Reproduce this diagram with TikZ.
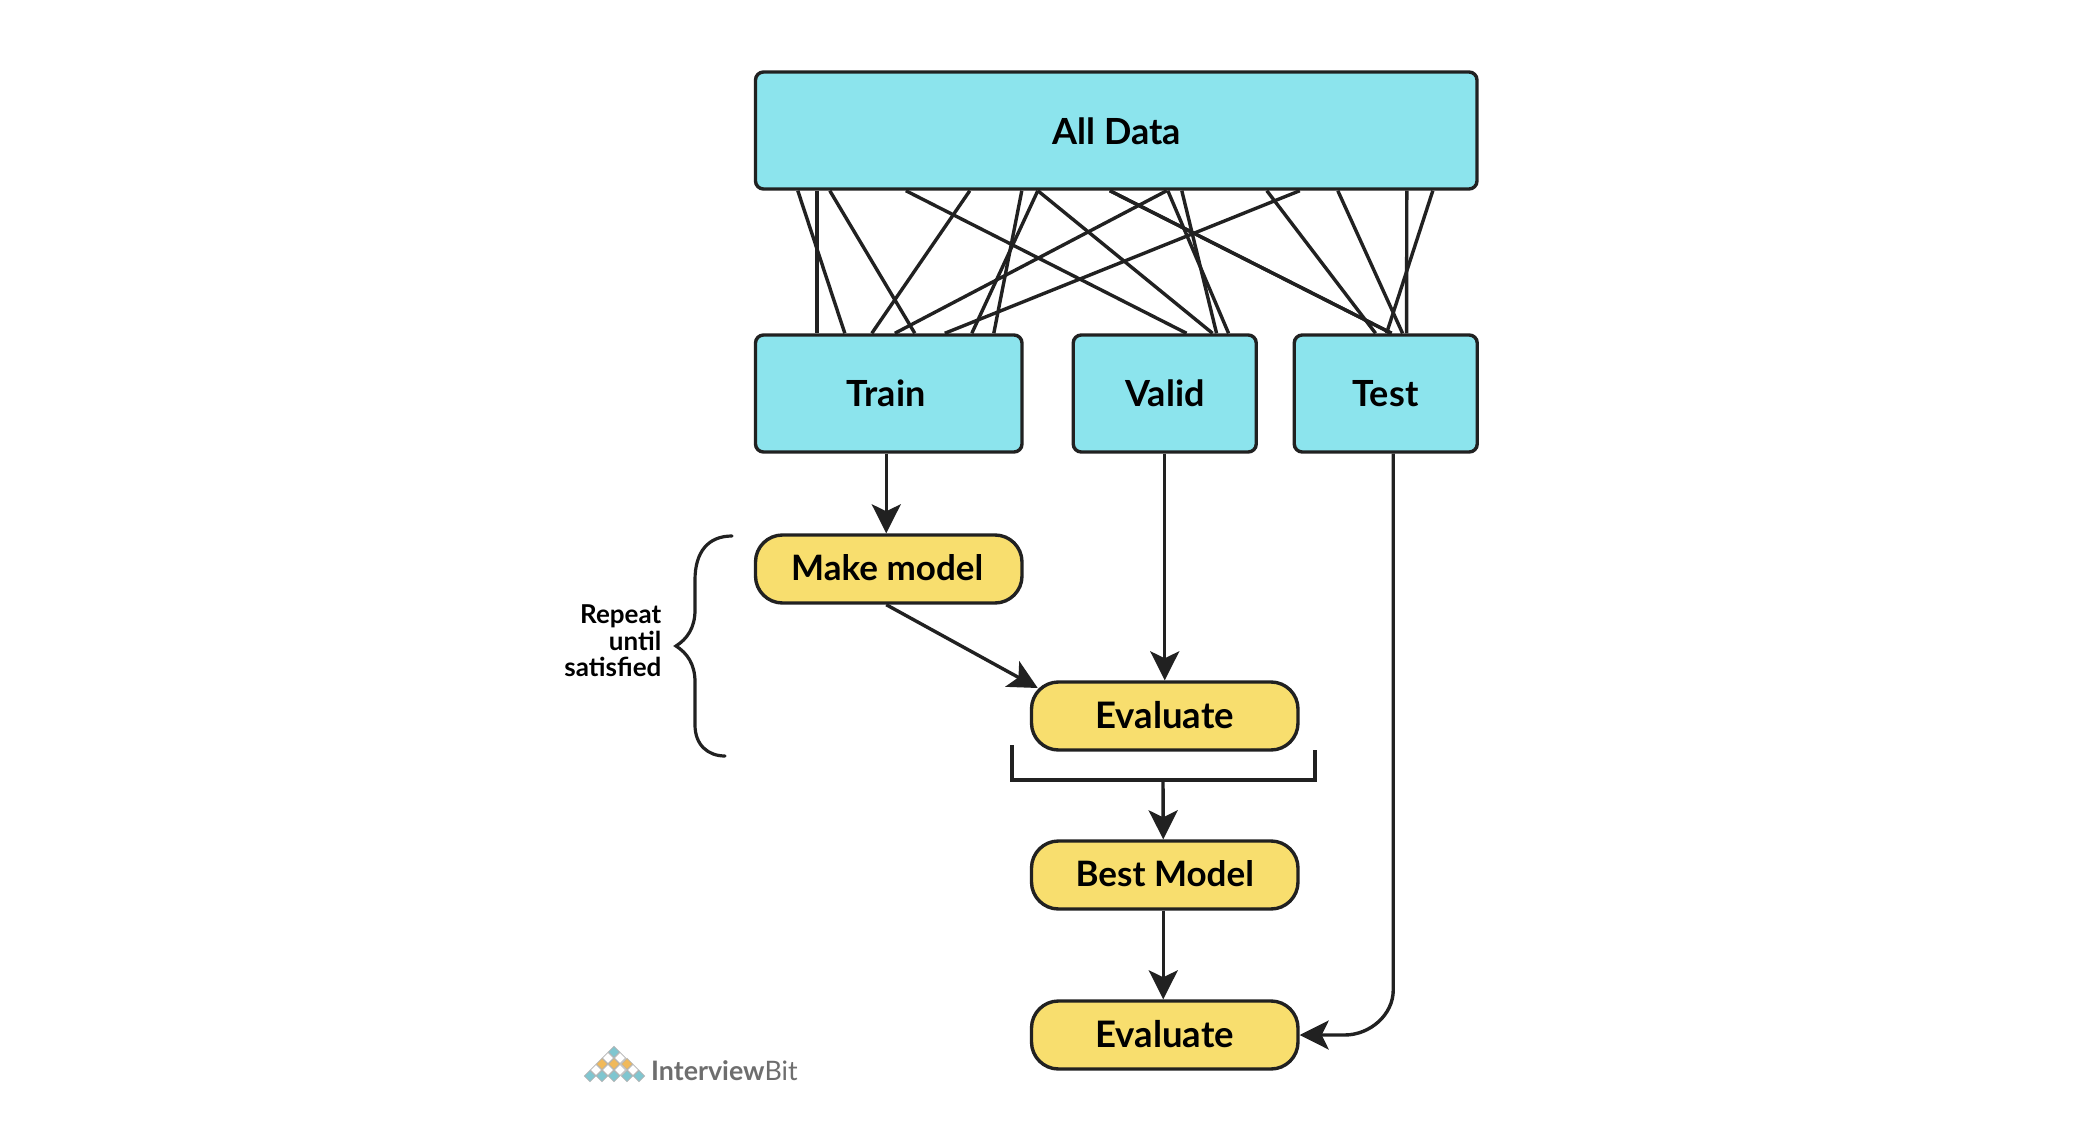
\documentclass[tikz,border=0pt]{standalone}
\usepackage{fontspec}
\setmainfont{Lato}
\usetikzlibrary{arrows.meta,calc}
\definecolor{cy}{HTML}{8CE4ED}
\definecolor{ye}{HTML}{F8DE6E}
\definecolor{ln}{HTML}{212121}
\definecolor{lt}{HTML}{7FC6D0}
\definecolor{lo}{HTML}{F0B95B}
\definecolor{lg}{HTML}{6E6E6E}
\tikzset{
 databox/.style={draw=ln,line width=3.4pt,fill=cy,rounded corners=8pt,inner sep=0pt},
 boxlabel/.style={inner sep=0pt,font=\fontsize{36}{40}\selectfont\bfseries,text=black},
 stepbox/.style={draw=ln,line width=3.4pt,fill=ye,rounded corners=27pt,inner sep=0pt,font=\fontsize{35}{40}\selectfont\bfseries,text=black},
 conn/.style={draw=ln,line width=3.4pt},
 arr/.style={draw=ln,line width=3.4pt,-{Stealth[length=29pt,width=29pt,inset=7pt]}},
}
\newcommand{\raisetext}[2][3pt]{\raisebox{#1}{#2}}
\newcommand{\evalsize}{\fontsize{36.5}{40}\selectfont}
\begin{document}
\begin{tikzpicture}[x=1pt,y=-1pt]
\useasboundingbox (0,0) rectangle (2094,1142);
\fill[white] (0,0) rectangle (2094,1142);

\node[databox,minimum width=721.5pt,minimum height=117pt] (all) at (1116.25,130.5) {};
\node[databox,minimum width=266.5pt,minimum height=117pt] (train) at (888.75,393.5) {};
\node[databox,minimum width=183pt,minimum height=117pt] (valid) at (1164.75,393.5) {};
\node[databox,minimum width=183pt,minimum height=117pt] (test) at (1385.75,393.5) {};

% All Data -> splits: offsets from each box's left end
\foreach \a/\b in {44/91,63/63,76/161,216/118,268/240,284/218,413/141,546/191}
  \draw[conn] ([xshift=\a pt]all.south west) -- ([xshift=\b pt]train.north west);
\foreach \a/\b in {152/115,284/141,356/320,414/157,428/145}
  \draw[conn] ([xshift=\a pt]all.south west) -- ([xshift=\b pt]valid.north west);
\foreach \a/\b in {356/99,513/83,584/110,679/94,653/114}
  \draw[conn] ([xshift=\a pt]all.south west) -- ([xshift=\b pt]test.north west);

\node[boxlabel] (lall) at (1116.5,131.5) {All Data};
\node[boxlabel] (ltrain) at (886,393.5) {Train};
\node[boxlabel] (lvalid) at (1165,393.5) {Valid};
\node[boxlabel] (ltest) at (1385.5,393.5) {Test};

\node[stepbox,minimum width=266.5pt,minimum height=68pt] (make) at (888.75,569) {\raisetext{\hspace{-3pt}Make model}};
\node[stepbox,minimum width=266.5pt,minimum height=68pt] (eval) at (1164.75,716) {\raisetext[2pt]{\evalsize Evaluate}};
\node[stepbox,minimum width=266.5pt,minimum height=68pt] (best) at (1164.75,875) {\raisetext{Best Model}};
\node[stepbox,minimum width=266.5pt,minimum height=68pt] (final) at (1164.75,1035) {\raisetext{\evalsize Evaluate}};

\draw[arr] ([xshift=-2.5pt]train.south) -- ([xshift=-2.5pt]make.north);
\draw[arr] (valid.south) -- (eval.north);
\draw[arr] ([xshift=-2.5pt]make.south) -- ([xshift=-127pt,yshift=28pt]eval.center);

\coordinate (bl) at (1012,745);
\coordinate (br) at (1315,750);
\coordinate (bj) at (1163,780);
\draw[conn] (bl) |- (br |- bj) -- (br);
\draw[arr] (bj) -- ([xshift=-1.5pt]best.north);
\draw[arr] ([xshift=-1.5pt]best.south) -- ([xshift=-1.5pt]final.north);
\draw[arr] ([xshift=7.5pt]test.south) -- ([xshift=7.5pt]test.south |- 0,990)
  .. controls ++(0,25) and ++(25,0) .. ([xshift=45pt]final.east) -- (final.east);

\coordinate (bt) at (732,536);
\coordinate (bb) at (725,756);
\draw[ln,line width=3.2pt,line cap=round] (bt)
  .. controls (708,536) and (695,552) .. (695,580) -- (695,610)
  .. controls (695,628) and (687,639) .. (676,646)
  .. controls (687,653) and (695,664) .. (695,682) -- (695,725)
  .. controls (695,745) and (708,756) .. (bb);

\node[align=right,anchor=east,inner sep=0pt,font=\fontsize{26}{26.5}\selectfont\bfseries] (rep) at (661.5,641) {Repeat\\until\\satisfied};

% logo
\foreach \x/\y/\c in {614/1052/lt,
  608/1058/white,620/1058/white,
  602/1064/lo,614/1064/lo,627/1064/lo,
  596/1070/white,608/1070/white,620/1070/white,633/1070/white,
  590/1076/lt,602/1076/lt,614/1076/lt,627/1076/lt,639/1076/lt}
  \filldraw[fill=\c,draw=black!30,line width=.6pt] (\x-5.6,\y) -- (\x,\y-5.6) -- (\x+5.6,\y) -- (\x,\y+5.6) -- cycle;
\node[anchor=west,inner sep=0pt,text=lg,font=\fontsize{26.8}{30}\selectfont] (logo) at (651,1071) {\textbf{Interview}Bit};
\end{tikzpicture}
\end{document}
